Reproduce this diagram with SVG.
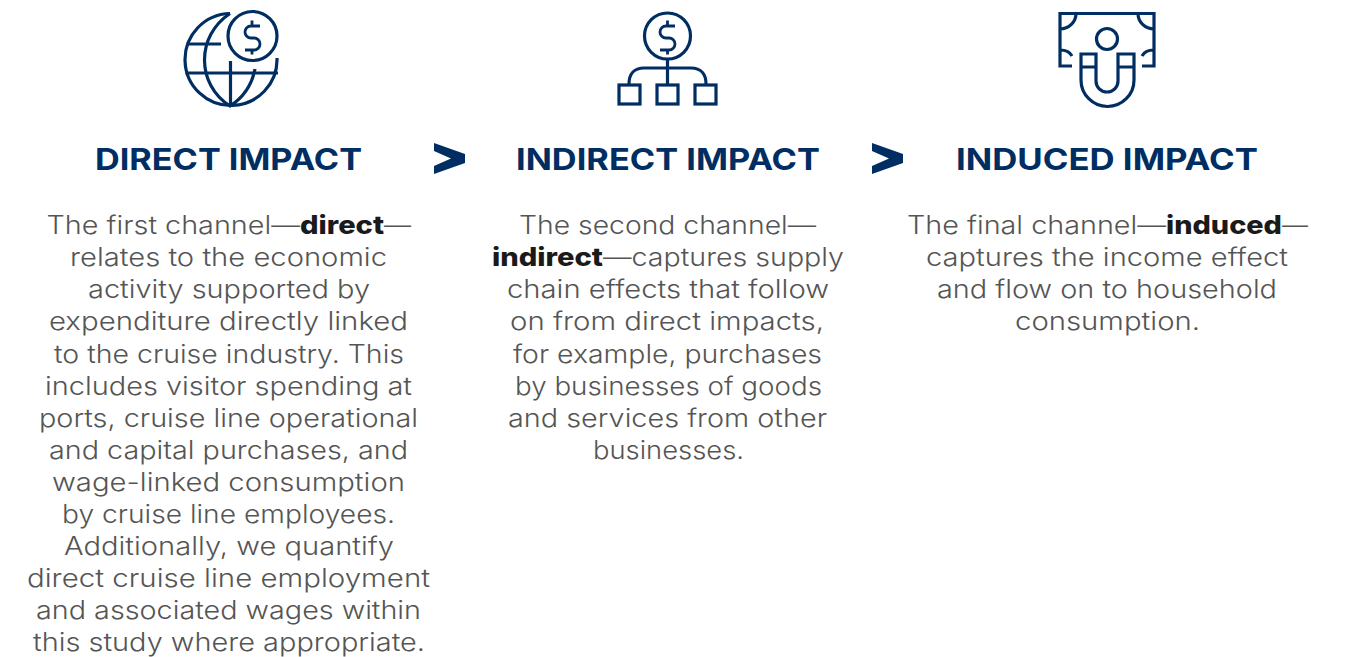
<svg xmlns="http://www.w3.org/2000/svg" width="1345" height="657" viewBox="0 0 1345 657">
<style>
.i{fill:none;stroke:#002d62;stroke-width:3.2}
.t{font-family:"Inter","Liberation Sans",sans-serif;font-size:30px;font-weight:700;fill:#002d62}
.b{font-family:"Inter","Liberation Sans",sans-serif;font-size:25.5px;font-weight:300;fill:#555}
.s{font-weight:800;fill:#1a1a1a}
.a{fill:#002d62}
</style>
<g id="node-direct">
<g class="i">
<path d="M230 13.500A46 46 0 1 0 277 58"/>
<circle cx="252.500" cy="36" r="24.500"/>
<path d="M185.500 73H278M187 44H221M230.500 61V106M230 13.500C196 36 196 84 230 106C244 97 252 84 255 69"/>
<path d="M260 26H251A6 6 0 0 0 251 38H254A6 6 0 0 1 254 50H245M252 20.500V26M252 50V54.500" stroke-width="2.800"/>
</g>
<text class="t" x="95" y="170" textLength="267" lengthAdjust="spacingAndGlyphs">DIRECT IMPACT</text>
<text class="b" y="234"><tspan x="46.500" textLength="253.500" lengthAdjust="spacingAndGlyphs">The first channel—</tspan><tspan class="s" x="300" textLength="84" lengthAdjust="spacingAndGlyphs">direct</tspan><tspan x="384" textLength="27" lengthAdjust="spacingAndGlyphs">—</tspan></text>
<text class="b" x="70" y="266" textLength="317" lengthAdjust="spacingAndGlyphs">relates to the economic</text>
<text class="b" x="88" y="298" textLength="282" lengthAdjust="spacingAndGlyphs">activity supported by</text>
<text class="b" x="49" y="330" textLength="359" lengthAdjust="spacingAndGlyphs">expenditure directly linked</text>
<text class="b" x="54" y="363" textLength="350" lengthAdjust="spacingAndGlyphs">to the cruise industry. This</text>
<text class="b" x="45" y="395" textLength="367" lengthAdjust="spacingAndGlyphs">includes visitor spending at</text>
<text class="b" x="39" y="427" textLength="379" lengthAdjust="spacingAndGlyphs">ports, cruise line operational</text>
<text class="b" x="49" y="459" textLength="359" lengthAdjust="spacingAndGlyphs">and capital purchases, and</text>
<text class="b" x="52" y="491" textLength="353" lengthAdjust="spacingAndGlyphs">wage-linked consumption</text>
<text class="b" x="62" y="523" textLength="333" lengthAdjust="spacingAndGlyphs">by cruise line employees.</text>
<text class="b" x="64" y="555" textLength="330" lengthAdjust="spacingAndGlyphs">Additionally, we quantify</text>
<text class="b" x="27" y="587" textLength="403" lengthAdjust="spacingAndGlyphs">direct cruise line employment</text>
<text class="b" x="36" y="619" textLength="385" lengthAdjust="spacingAndGlyphs">and associated wages within</text>
<text class="b" x="33" y="651" textLength="392" lengthAdjust="spacingAndGlyphs">this study where appropriate.</text>
</g>
<g id="node-indirect">
<g class="i">
<circle cx="667.500" cy="36" r="23"/>
<path d="M675 26H666A6 6 0 0 0 666 38H669A6 6 0 0 1 669 50H660M667.500 20.500V26M667.500 50V54.500" stroke-width="2.800"/>
<path d="M667.500 59V84M629 84C629 74 634 68 644 68H691C701 68 706 74 706 84"/>
<rect x="619" y="85" width="21" height="19"/><rect x="657" y="85" width="21" height="19"/><rect x="695" y="85" width="21" height="19"/>
</g>
<text class="t" x="516" y="170" textLength="304" lengthAdjust="spacingAndGlyphs">INDIRECT IMPACT</text>
<text class="b" x="519" y="234" textLength="297" lengthAdjust="spacingAndGlyphs">The second channel—</text>
<text class="b" y="266"><tspan class="s" x="492" textLength="111" lengthAdjust="spacingAndGlyphs">indirect</tspan><tspan x="603" textLength="241" lengthAdjust="spacingAndGlyphs">—captures supply</tspan></text>
<text class="b" x="507" y="298" textLength="322" lengthAdjust="spacingAndGlyphs">chain effects that follow</text>
<text class="b" x="510" y="330" textLength="314" lengthAdjust="spacingAndGlyphs">on from direct impacts,</text>
<text class="b" x="513" y="363" textLength="309" lengthAdjust="spacingAndGlyphs">for example, purchases</text>
<text class="b" x="515" y="395" textLength="307" lengthAdjust="spacingAndGlyphs">by businesses of goods</text>
<text class="b" x="508" y="427" textLength="319" lengthAdjust="spacingAndGlyphs">and services from other</text>
<text class="b" x="593" y="459" textLength="151" lengthAdjust="spacingAndGlyphs">businesses.</text>
</g>
<g id="node-induced">
<g class="i">
<path d="M1072 66H1060V13.500H1154V66H1142M1076 13.500C1076 22 1069 29 1060 29M1138 13.500C1138 22 1145 29 1154 29M1060 50C1066 50 1070 52 1072 56M1154 50C1148 50 1144 52 1142 56"/>
<circle cx="1107" cy="39" r="10.500"/>
<path d="M1081 54H1096V81A11 11 0 0 0 1118 81V54H1134V80A26.500 26.500 0 0 1 1081 80ZM1081 67H1096M1118 67H1134"/>
</g>
<text class="t" x="956" y="170" textLength="302" lengthAdjust="spacingAndGlyphs">INDUCED IMPACT</text>
<text class="b" y="234"><tspan x="907" textLength="259" lengthAdjust="spacingAndGlyphs">The final channel—</tspan><tspan class="s" x="1166" textLength="116" lengthAdjust="spacingAndGlyphs">induced</tspan><tspan x="1282" textLength="26" lengthAdjust="spacingAndGlyphs">—</tspan></text>
<text class="b" x="926" y="266" textLength="362" lengthAdjust="spacingAndGlyphs">captures the income effect</text>
<text class="b" x="937" y="298" textLength="340" lengthAdjust="spacingAndGlyphs">and flow on to household</text>
<text class="b" x="1015" y="330" textLength="185" lengthAdjust="spacingAndGlyphs">consumption.</text>
</g>
<g id="connectors">
<path class="a" d="M434 143L465 154V163L434 174V166L451 158.500L434 151Z"/>
<path class="a" d="M872 143L903 154V163L872 174V166L889 158.500L872 151Z"/>
</g>
</svg>
